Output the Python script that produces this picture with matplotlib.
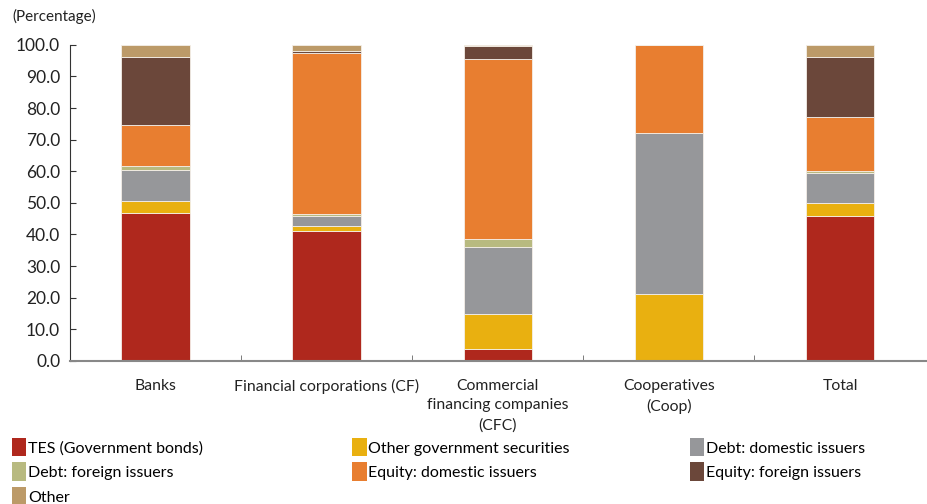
import numpy as np
import matplotlib.pyplot as plt
from matplotlib.patches import Patch

plt.rcParams['font.family'] = ['Lato', 'DejaVu Sans']

groups = ['Banks', 'Financial corporations (CF)',
          'Commercial\nfinancing companies\n(CFC)', 'Cooperatives\n(Coop)', 'Total']
series = ['TES (Government bonds)', 'Other government securities', 'Debt: domestic issuers',
          'Debt: foreign issuers', 'Equity: domestic issuers', 'Equity: foreign issuers', 'Other']
colors = ['#AF281D', '#E9B010', '#96979A', '#B8BA80', '#E87E30', '#6B473A', '#BC9A68']

tes = [46.8, 41.0, 3.7, 0.0, 45.8]
other_gov = [3.9, 1.6, 11.0, 21.3, 4.0]
debt_dom = [9.8, 3.2, 21.4, 50.8, 9.7]
debt_for = [1.3, 0.7, 2.6, 0.0, 0.7]
eq_dom = [12.9, 50.9, 56.9, 27.9, 16.9]
eq_for = [21.3, 0.8, 3.9, 0.0, 18.9]
other = [4.0, 1.8, 0.5, 0.0, 4.0]

data = [tes, other_gov, debt_dom, debt_for, eq_dom, eq_for, other]

fig = plt.figure(figsize=(9.28, 5.04), dpi=100)
ax = fig.add_axes([0.0754, 0.284, 0.922, 0.627])

x = np.arange(len(groups))
bottom = np.zeros(len(groups))
for vals, c, name in zip(data, colors, series):
    ax.bar(x, vals, 0.4, bottom=bottom, color=c, edgecolor='#f4efe8', linewidth=0.6, label=name)
    bottom += np.array(vals)

ax.set_xlim(-0.5, 4.5)
ax.set_ylim(0, 100)
ax.set_yticks(np.arange(0, 101, 10))
ax.set_yticklabels([f'{v:.1f}' for v in np.arange(0, 101, 10)], fontsize=12.5, color='#222')
ax.set_xticks(x)
ax.set_xticklabels(groups, fontsize=11.3, color='#222', linespacing=1.5)
ax.set_xticks(np.arange(0.5, 4.5, 1), minor=True)
ax.tick_params(axis='x', which='major', length=0, pad=13)
ax.tick_params(axis='x', which='minor', length=4, direction='in', color='#666')
ax.tick_params(axis='y', length=4, direction='in', color='#333', pad=7)
for s in ['top', 'right']:
    ax.spines[s].set_visible(False)
ax.spines['left'].set_color('#333')
ax.spines['bottom'].set_color('#888')
ax.spines['bottom'].set_linewidth(1.5)

fig.text(0.013, 0.968, '(Percentage)', fontsize=11, color='#222', va='center')

# legend laid out in three columns, filled row by row
cols = [[0, 3, 6], [1, 4], [2, 5]]
xs = [0.0125, 0.3795, 0.7435]
for idx, xpos in zip(cols, xs):
    handles = [Patch(facecolor=colors[i], edgecolor='none') for i in idx]
    labels = [series[i] for i in idx]
    fig.legend(handles, labels, loc='upper left', bbox_to_anchor=(xpos, 0.131),
               frameon=False, fontsize=11.5, handlelength=0.9, handleheight=1.4,
               handletextpad=0.12, labelspacing=0.38, borderaxespad=0, borderpad=0)

fig.savefig('out.png', dpi=100)
